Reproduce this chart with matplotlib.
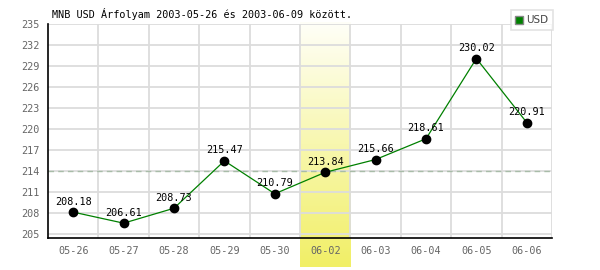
import numpy as np
import matplotlib
matplotlib.use('Agg')
import matplotlib.pyplot as plt
from matplotlib.lines import Line2D

dates = ['05-26', '05-27', '05-28', '05-29', '05-30',
         '06-02', '06-03', '06-04', '06-05', '06-06']
usd = [208.18, 206.61, 208.73, 215.47, 210.79,
       213.84, 215.66, 218.61, 230.02, 220.91]
y_ticks = [205, 208, 211, 214, 217, 220, 223, 226, 229, 232, 235]
ref_level = 214
highlight = '06-02'
title = 'MNB USD Árfolyam 2003-05-26 és 2003-06-09 között.'

mono = 'DejaVu Sans Mono'
grid_c = '#dcdcdc'

fig = plt.figure(figsize=(6, 2.7), dpi=100)
ax_l, ax_r = 48 / 600, 552 / 600
ax_b, ax_t = 1 - 238 / 270, 1 - 23.5 / 270
ax = fig.add_axes([ax_l, ax_b, ax_r - ax_l, ax_t - ax_b])
ax.set_facecolor('none')

# highlighted day band (gradient), drawn in its own axes behind
n = len(dates)
hi = dates.index(highlight)
slot = (ax_r - ax_l) / n
band_b = 1 - 267 / 270
band_t = 1 - 22 / 270
bax = fig.add_axes([ax_l + hi * slot, band_b, slot, band_t - band_b], zorder=-1)
top_c = np.array([255, 255, 248]) / 255
bot_c = np.array([241, 239, 102]) / 255
t = np.linspace(0, 1, 256)[:, None]
grad = (top_c * (1 - t) + bot_c * t)[:, None, :]
bax.imshow(grad, aspect='auto', extent=[0, 1, 0, 1])
bax.axis('off')

x = np.arange(n)
ax.set_xlim(-0.5, n - 0.5)
ax.set_ylim(204.5, 235)

for b in np.arange(n) + 0.5:
    ax.axvline(b, color=grid_c, lw=1.3, zorder=0)
for yv in y_ticks:
    ax.axhline(yv, color=grid_c, lw=1.3, zorder=0)
ax.axhline(ref_level, color='#a8bca8', lw=1, ls=(0, (4, 3)), zorder=1)

ax.plot(x, usd, color='#008000', lw=0.9, zorder=2)
ax.plot(x, usd, 'o', color='black', ms=6, zorder=3)
for xi, v in zip(x, usd):
    ax.annotate(f'{v:.2f}', (xi, v), xytext=(0, 4), textcoords='offset points',
                ha='center', va='bottom', fontsize=7.3, family=mono, color='black',
                zorder=4)

ax.set_xticks(x)
ax.set_xticklabels(dates)
ax.set_yticks(y_ticks)
ax.tick_params(length=0, labelsize=7.3, labelcolor='#666666', pad=6)
for lab in ax.get_xticklabels() + ax.get_yticklabels():
    lab.set_family(mono)

for s in ['top', 'right']:
    ax.spines[s].set_visible(False)
ax.spines['left'].set_color('black')
ax.spines['bottom'].set_color('black')
ax.spines['left'].set_linewidth(1.2)
ax.spines['bottom'].set_linewidth(1.2)

fig.text(52 / 600, 1 - 14 / 270, title, family=mono, fontsize=7.3,
         va='center', ha='left', color='black')

handle = Line2D([], [], marker='s', ls='none', color='#008000',
                markeredgecolor='#888888', ms=6)
leg = fig.legend([handle], ['USD'], loc='upper right',
                 bbox_to_anchor=(553 / 600, 1 - 10 / 270),
                 frameon=True, fancybox=False, fontsize=7.5,
                 handlelength=0.6, handletextpad=0.3, borderpad=0.5,
                 borderaxespad=0)
leg.get_frame().set_edgecolor(grid_c)
leg.get_frame().set_linewidth(1.2)
for tx in leg.get_texts():
    tx.set_color('#444444')

fig.savefig('out.png', dpi=100)
